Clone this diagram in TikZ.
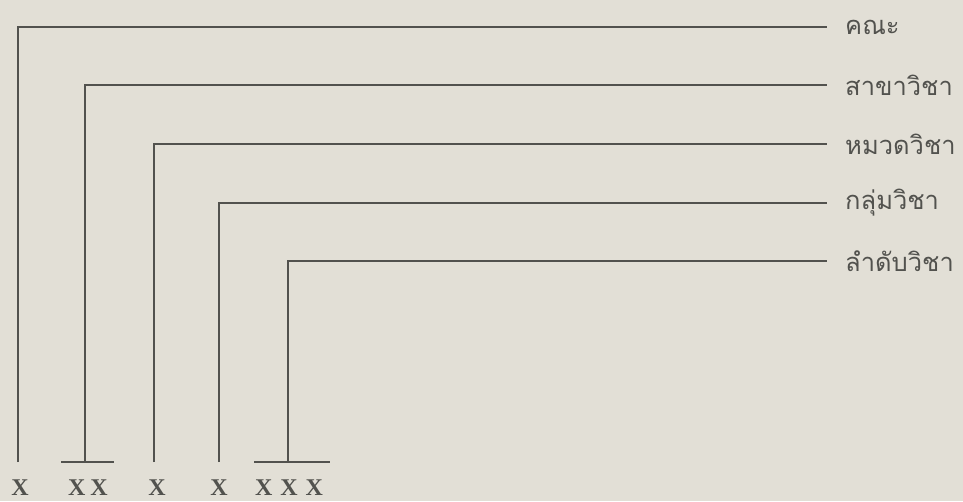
\documentclass[tikz,border=0pt]{standalone}
\usepackage{fontspec}
\setmainfont{Liberation Serif}
\newfontfamily\thaifont[Script=Thai]{Loma}
\definecolor{figBg}{RGB}{226,223,214}
\definecolor{figL}{RGB}{82,82,78}

\begin{document}
\begin{tikzpicture}[x=1pt,y=-1pt,
  lab/.style={anchor=west,inner xsep=18pt,inner ysep=0pt,font=\thaifont\fontsize{25.5}{28}\selectfont,text=figL},
  code/.style={inner sep=0pt,font=\bfseries\fontsize{24}{26}\selectfont,text=figL},
  conn/.style={draw=figL,line width=1.6pt}]
\fill[figBg] (0,0) rectangle (963,501);
\useasboundingbox (0,0) rectangle (963,501);
% level labels, right side
\node[lab] (fac)  at (827,27)  {คณะ};
\node[lab] (dept) at (827,85)  {สาขาวิชา};
\node[lab] (cat)  at (827,144) {หมวดวิชา};
\node[lab] (grp)  at (827,203) {กลุ่มวิชา};
\node[lab] (seq)  at (827,261) {ลำดับวิชา};
% code digits, bottom row
\node[code] (c1) at (20,488)  {X};
\node[code] (c2) at (88,488)  {X\kern5pt X};
\node[code] (c3) at (157,488) {X};
\node[code] (c4) at (219,488) {X};
\node[code] (c5) at (289,488) {X\kern8pt X\kern8pt X};
% foot of each leader
\coordinate (fac-b)  at (18,462);
\coordinate (dept-b) at (85,462);
\coordinate (cat-b)  at (154,462);
\coordinate (grp-b)  at (219,462);
\coordinate (seq-b)  at (288,462);
\coordinate (dept-l) at (61,462);  \coordinate (dept-r) at (114,462);
\coordinate (seq-l)  at (254,462); \coordinate (seq-r)  at (330,462);
\foreach \n in {fac,dept,cat,grp,seq}
  \draw[conn] (\n-b) |- (\n.west);
\draw[conn] (dept-l) -- (dept-r);
\draw[conn] (seq-l) -- (seq-r);
\end{tikzpicture}
\end{document}
